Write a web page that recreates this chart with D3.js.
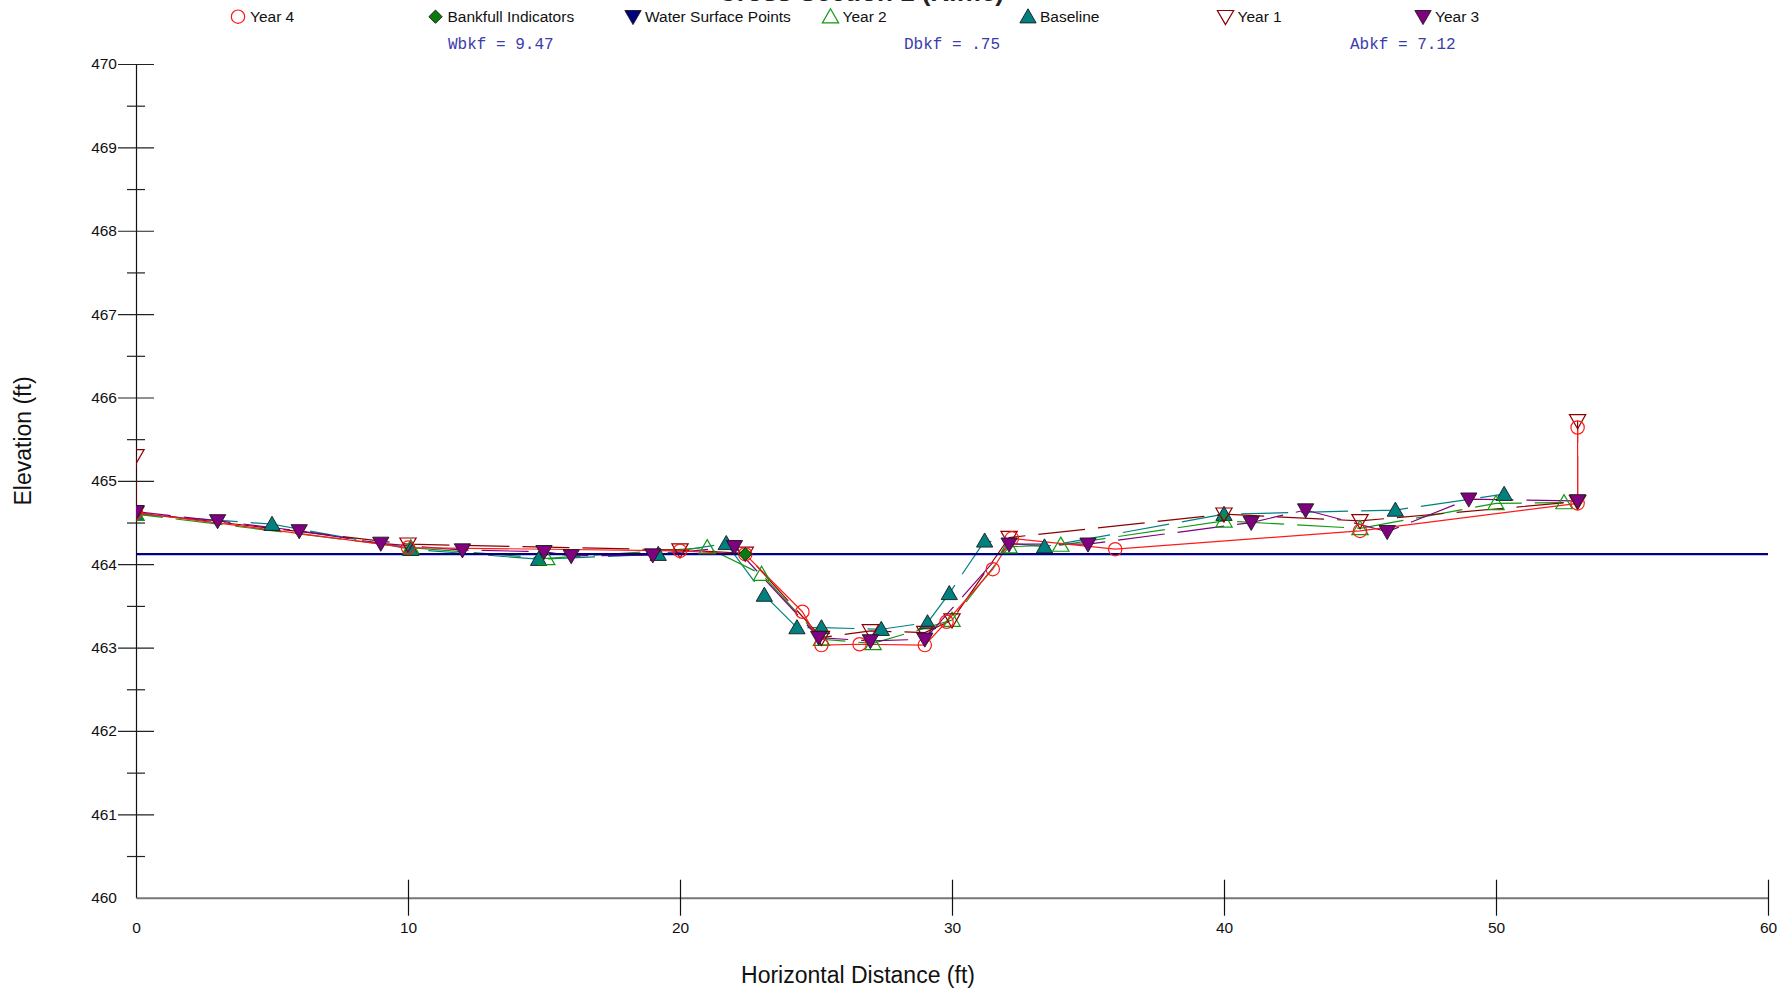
<!DOCTYPE html>
<html><head><meta charset="utf-8">
<script src="https://cdn.jsdelivr.net/npm/d3@7"></script>
<style>body{margin:0;background:#fff}svg{display:block}</style>
</head><body><svg id="c" width="1789" height="993"></svg>
<script>
// ---------- data ----------
const xTickValues = [0, 10, 20, 30, 40, 50, 60];
const yTickValues = [460, 461, 462, 463, 464, 465, 466, 467, 468, 469, 470];
const yMinorValues = [460.5, 461.5, 462.5, 463.5, 464.5, 465.5, 466.5, 467.5, 468.5, 469.5];

const baseline = [[0,464.6],[5,464.48],[10.1,464.18],[14.8,464.06],[19.2,464.12],[21.7,464.25],[23.1,463.63],[24.3,463.24],[25.2,463.24],[27.4,463.22],[29.1,463.3],[29.9,463.65],[31.2,464.28],[33.4,464.21],[40,464.6],[46.3,464.65],[50.3,464.84]];
const year1 = [[0,465.3],[0,464.62],[10,464.24],[20,464.17],[22.4,464.13],[25.2,463.12],[27,463.2],[29,463.18],[30,463.33],[32.1,464.32],[40,464.6],[45,464.52],[53,464.75],[53,465.72]];
const year2 = [[0,464.6],[10.1,464.2],[15.1,464.07],[21,464.2],[23,463.88],[25.2,463.1],[27.1,463.05],[30,463.33],[32.1,464.21],[34,464.23],[40,464.52],[45,464.43],[50,464.73],[52.5,464.74]];
const year3 = [[0,464.63],[3,464.52],[6,464.4],[9,464.25],[12,464.17],[15,464.15],[16,464.1],[19,464.11],[22,464.21],[25.1,463.12],[27,463.08],[29,463.1],[32.1,464.24],[35,464.24],[41,464.5],[43,464.65],[46,464.39],[49,464.78],[53,464.76]];
const year4 = [[0,464.62],[10,464.2],[20,464.16],[22.4,464.12],[24.5,463.43],[25.2,463.03],[26.6,463.04],[29,463.03],[29.8,463.31],[31.5,463.94],[32.2,464.31],[36,464.18],[45,464.4],[53,464.73],[53,465.64]];
const bankfullPoints = [[22.4,464.12]];
const waterSurfaceElev = 464.12;

const legendLabels = ["Year 4","Bankfull Indicators","Water Surface Points","Year 2","Baseline","Year 1","Year 3"];
const bankfullLabels = ["Wbkf = 9.47","Dbkf = .75","Abkf = 7.12"];
const titleText = "Cross Section 1 (Riffle)";
const xTitle = "Horizontal Distance (ft)";
const yTitle = "Elevation (ft)";

// ---------- styles ----------
const styles = {
  "Year 4": {color:"#ff1a1a", shape:"circle", filled:false, dash:null, offset:0},
  "Bankfull Indicators": {color:"#0a7a0a", shape:"diamond", filled:true},
  "Water Surface Points": {color:"#000080", shape:"down", filled:true},
  "Year 2": {color:"#119911", shape:"up", filled:false, dash:"47,13", offset:20},
  "Baseline": {color:"#008080", shape:"up", filled:true, dash:"47,13", offset:5},
  "Year 1": {color:"#8b0000", shape:"down", filled:false, dash:"47,13", offset:35},
  "Year 3": {color:"#800080", shape:"down", filled:true, dash:"47,13", offset:12}
};
const seriesData = {"Baseline":baseline,"Year 1":year1,"Year 2":year2,"Year 3":year3,"Year 4":year4};

const svg = d3.select("#c");
const x = d3.scaleLinear().domain([0,60]).range([136,1768]);
const y = d3.scaleLinear().domain([460,470]).range([897.7,64]);
const FONT = "'Liberation Sans', Arial, sans-serif";

svg.append("defs").append("clipPath").attr("id","plotClip")
  .append("rect").attr("x", x(0)).attr("y", y(470)).attr("width", x(60)-x(0)).attr("height", y(460)-y(470));

function symbolPath(shape){
  if(shape==="circle") return d3.symbol(d3.symbolCircle, 140)();
  if(shape==="diamond") return d3.symbol(d3.symbolSquare, 88)();
  return d3.symbol(d3.symbolTriangle, 115)();
}
function drawMarker(g, shape, filled, color, cx, cy){
  let rot = 0;
  if(shape==="down") rot = 180;
  if(shape==="diamond") rot = 45;
  const dy = shape==="up" ? 1.5 : (shape==="down" ? -1.5 : 0);
  g.append("path")
    .attr("d", symbolPath(shape))
    .attr("transform", `translate(${cx},${cy+dy}) rotate(${rot})`)
    .attr("fill", filled ? color : "none")
    .attr("stroke", filled ? "#1a1a1a" : color)
    .attr("stroke-width", filled ? 0.9 : 1.2);
}

// title (mostly above view, as in the reference)
svg.append("text").attr("x", 861).attr("y", 0.8).attr("text-anchor","middle")
  .attr("font-family", FONT).attr("font-size", 26).attr("font-weight","bold").attr("fill","#222")
  .text(titleText);

// ---------- axes ----------
const yAxisG = svg.append("g").attr("transform", `translate(${x(0)},0)`);
yAxisG.call(d3.axisLeft(y).tickValues(yTickValues).tickSize(18).tickSizeOuter(0).tickPadding(1).tickFormat(d3.format("d")));
yAxisG.select(".domain").attr("stroke","#111").attr("stroke-width",1.2);
yAxisG.selectAll(".tick line").attr("x1",-18).attr("x2",18).attr("stroke","#222").attr("stroke-width",1.2)
  .filter(d => d===460).remove();
yAxisG.selectAll(".tick text").attr("font-family",FONT).attr("font-size",15.5).attr("fill","#111");
const yMinorG = svg.append("g").attr("transform", `translate(${x(0)},0)`);
yMinorG.call(d3.axisLeft(y).tickValues(yMinorValues).tickSize(9).tickFormat(""));
yMinorG.select(".domain").remove();
yMinorG.selectAll(".tick line").attr("x1",-9).attr("x2",9).attr("stroke","#222").attr("stroke-width",1.2);

const xAxisG = svg.append("g").attr("transform", `translate(0,${y(460)})`);
xAxisG.call(d3.axisBottom(x).tickValues(xTickValues).tickSize(18).tickSizeOuter(0).tickPadding(6));
xAxisG.select(".domain").attr("stroke","#777").attr("stroke-width",2);
xAxisG.selectAll(".tick line").attr("y1",-18).attr("y2",18).attr("stroke","#111").attr("stroke-width",1.2)
  .filter(d => d===0).remove();
xAxisG.selectAll(".tick text").attr("font-family",FONT).attr("font-size",15.5).attr("fill","#111");

svg.append("text").attr("x", 858).attr("y", 983).attr("text-anchor","middle")
  .attr("font-family",FONT).attr("font-size",23).attr("fill","#111").text(xTitle);
svg.append("text").attr("transform","translate(31,441) rotate(-90)").attr("text-anchor","middle")
  .attr("font-family",FONT).attr("font-size",23).attr("fill","#111").text(yTitle);

// ---------- plot content (clipped to plot area) ----------
const plotG = svg.append("g").attr("clip-path","url(#plotClip)");
const line = d3.line().x(d => x(d[0])).y(d => y(d[1]));
const lineOrder = ["Baseline","Year 2","Year 1","Year 3","Year 4"];
lineOrder.forEach(name => {
  const s = styles[name];
  plotG.append("path").datum(seriesData[name])
    .attr("d", line).attr("fill","none")
    .attr("stroke", s.color).attr("stroke-width", 1.2)
    .attr("stroke-dasharray", s.dash)
    .attr("stroke-dashoffset", s.offset || 0);
});

plotG.append("line").attr("x1", x(0)).attr("x2", x(60))
  .attr("y1", y(waterSurfaceElev)).attr("y2", y(waterSurfaceElev))
  .attr("stroke", styles["Water Surface Points"].color).attr("stroke-width", 2.2);

["Baseline","Year 2","Year 1","Year 4","Year 3"].forEach(name => {
  const s = styles[name];
  seriesData[name].forEach(p => drawMarker(plotG, s.shape, s.filled, s.color, x(p[0]), y(p[1])));
});
bankfullPoints.forEach(p => {
  const s = styles["Bankfull Indicators"];
  drawMarker(plotG, s.shape, s.filled, s.color, x(p[0]), y(p[1]));
});

// ---------- legend ----------
const legendG = svg.append("g");
legendLabels.forEach((name, i) => {
  const s = styles[name];
  const lx = 238 + i * 197.5, ly = 16.7;
  drawMarker(legendG, s.shape, s.filled, s.color, lx, ly);
  legendG.append("text").attr("x", lx + 12).attr("y", ly + 5.4)
    .attr("font-family",FONT).attr("font-size",15.5).attr("fill","#111").text(name);
});

// bankfull stats
const statX = [448, 904, 1350];
bankfullLabels.forEach((t, i) => {
  svg.append("text").attr("x", statX[i]).attr("y", 49)
    .attr("font-family","'Liberation Mono','Courier New',monospace").attr("font-size",16)
    .attr("fill","#3b3bab").text(t);
});
</script></body></html>
